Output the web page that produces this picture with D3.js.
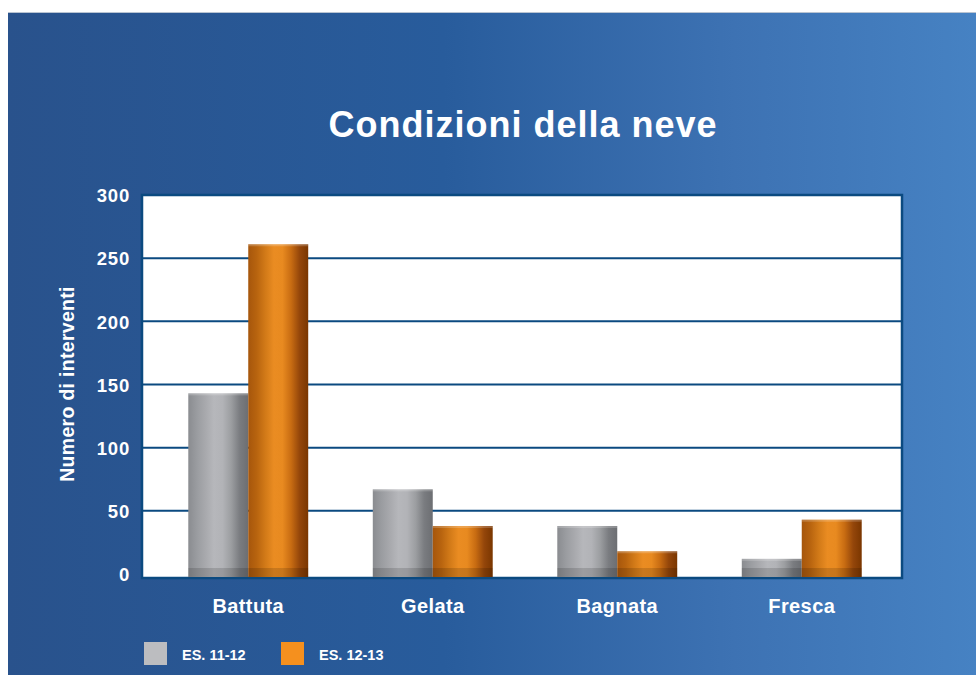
<!DOCTYPE html>
<html>
<head>
<meta charset="utf-8">
<script src="https://cdn.jsdelivr.net/npm/d3@7"></script>
<style>
  body { margin: 0; background: #fff; }
  svg { display: block; font-family: "Liberation Sans", Arial, sans-serif; }
</style>
</head>
<body>
<svg id="chart" width="976" height="675"></svg>
<script>
// chart data
const categories = ["Battuta", "Gelata", "Bagnata", "Fresca"];
const seriesNames = ["ES. 11-12", "ES. 12-13"];
const es1112 = [143, 67, 38, 12];
const es1213 = [261, 38, 18, 43];
const yTicks = [0, 50, 100, 150, 200, 250, 300];

const W = 976, H = 675;
const plot = { left: 142, right: 902, top: 195, bottom: 578 };

const svg = d3.select("#chart");
const defs = svg.append("defs");

// blue background
const bg = defs.append("linearGradient").attr("id", "bg")
  .attr("x1", "0").attr("x2", "1").attr("y1", "0").attr("y2", "0");
bg.append("stop").attr("offset", "0").attr("stop-color", "#29528c");
bg.append("stop").attr("offset", "0.45").attr("stop-color", "#285c9c");
bg.append("stop").attr("offset", "0.75").attr("stop-color", "#3d72b3");
bg.append("stop").attr("offset", "1").attr("stop-color", "#4682c3");

svg.append("rect").attr("x", 8).attr("y", 12).attr("width", W - 8).attr("height", H - 12)
  .attr("fill", "url(#bg)");
svg.append("line").attr("x1", 8).attr("x2", W).attr("y1", 12.5).attr("y2", 12.5)
  .attr("stroke", "#b9c4d2").attr("stroke-width", 1);

// cylinder shading for the bars
function shade(id, cols) {
  const g = defs.append("linearGradient").attr("id", id)
    .attr("x1", "0").attr("x2", "1").attr("y1", "0").attr("y2", "0");
  cols.forEach((c, i) => g.append("stop").attr("offset", i / (cols.length - 1)).attr("stop-color", c));
}
shade("gGrey", ["#8a8c90", "#9a9ca0", "#a8a9ad", "#b6b7bb", "#b2b3b7", "#9c9ea1", "#7a7c80", "#6c6e72"]);
shade("gOrange", ["#a6560c", "#b8640f", "#d27a18", "#ea8c22", "#e88a20", "#c86c12", "#94460a", "#7a3600"]);
const fills = ["url(#gGrey)", "url(#gOrange)"];
const legendColors = ["#bcbdc0", "#f5901e"];

const x0 = d3.scaleBand().domain(categories).range([156, 894]).paddingInner(0.35).paddingOuter(0.175);
const x1 = d3.scaleBand().domain(seriesNames).range([0, x0.bandwidth()]);
const y = d3.scaleLinear().domain([0, 300]).range([574, plot.top]);

// plot area
svg.append("rect").attr("x", plot.left).attr("y", plot.top)
  .attr("width", plot.right - plot.left).attr("height", plot.bottom - plot.top)
  .attr("fill", "#fff").attr("stroke", "#0b4a80").attr("stroke-width", 2.5);

svg.append("g").selectAll("line").data(yTicks.filter(d => d > 0 && d < 300)).join("line")
  .attr("x1", plot.left).attr("x2", plot.right)
  .attr("y1", d => y(d)).attr("y2", d => y(d))
  .attr("stroke", "#0b4a80").attr("stroke-width", 2);

// bars
const rows = categories.map((c, i) => ({ cat: c, vals: [es1112[i], es1213[i]] }));
const grp = svg.append("g").selectAll("g").data(rows).join("g")
  .attr("transform", d => `translate(${x0(d.cat)},0)`);
grp.selectAll("g.bar").data(d => d.vals.map((v, k) => ({ v, k }))).join("g").attr("class", "bar")
  .each(function (d) {
    const g = d3.select(this);
    const bx = x1(seriesNames[d.k]), bw = x1.bandwidth();
    const top = y(d.v), bot = plot.bottom - 1;
    g.append("rect").attr("x", bx).attr("y", top).attr("width", bw).attr("height", bot - top)
      .attr("fill", fills[d.k]);
    // darker foot
    g.append("rect").attr("x", bx).attr("y", Math.max(top, bot - 9)).attr("width", bw)
      .attr("height", Math.min(9, bot - top)).attr("fill", "#000").attr("opacity", 0.14);
    // lighter cap
    g.append("rect").attr("x", bx).attr("y", top).attr("width", bw).attr("height", 2)
      .attr("fill", "#fff").attr("opacity", 0.2);
  });

// y axis labels
const yAxis = d3.axisLeft(y).tickValues(yTicks).tickSize(0).tickPadding(0);
const ya = svg.append("g").attr("transform", "translate(130,0)").call(yAxis);
ya.select(".domain").remove();
ya.selectAll("text").attr("fill", "#fff").attr("font-size", 18.5).attr("font-weight", "bold")
  .attr("letter-spacing", 0.8)
  .attr("font-family", "Liberation Sans, Arial, sans-serif").attr("dy", "0.36em");

// x axis labels
const xAxis = d3.axisBottom(x0).tickSize(0).tickPadding(0);
const xa = svg.append("g").attr("transform", "translate(0,613)").call(xAxis);
xa.select(".domain").remove();
xa.selectAll("text").attr("fill", "#fff").attr("font-size", 20).attr("font-weight", "bold")
  .attr("letter-spacing", 0.4).attr("dy", null)
  .attr("font-family", "Liberation Sans, Arial, sans-serif");

// axis title
svg.append("text").attr("transform", "translate(74,384) rotate(-90)")
  .attr("text-anchor", "middle").attr("fill", "#fff").attr("font-size", 19.5).attr("font-weight", "bold")
  .attr("letter-spacing", 0.3)
  .text("Numero di interventi");

// chart title
svg.append("text").attr("x", 523).attr("y", 137).attr("text-anchor", "middle")
  .attr("fill", "#fff").attr("font-size", 36).attr("font-weight", "bold")
  .attr("letter-spacing", 1)
  .text("Condizioni della neve");

// legend
const legX = [144, 281];
const leg = svg.append("g").selectAll("g").data(seriesNames).join("g")
  .attr("transform", (d, i) => `translate(${legX[i]},642)`);
leg.append("rect").attr("width", 23).attr("height", 23).attr("fill", (d, i) => legendColors[i]);
leg.append("text").attr("x", 38).attr("y", 17.5).attr("fill", "#fff")
  .attr("font-size", 14.5).attr("font-weight", "bold").text(d => d);
</script>
</body>
</html>
